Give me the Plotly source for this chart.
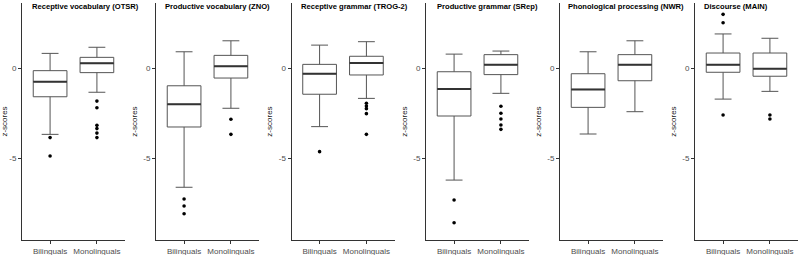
import plotly.graph_objects as go

W, H = 800, 255

groups = ["Bilinguals", "Monolinguals"]
titles = ["Receptive vocabulary (OTSR)", "Productive vocabulary (ZNO)",
          "Receptive grammar (TROG-2)", "Productive grammar (SRep)",
          "Phonological processing (NWR)", "Discourse (MAIN)"]

# stats per panel: [Bilinguals, Monolinguals]
q1 = [[-1.58, -0.24], [-3.26, -0.54], [-1.44, -0.37], [-2.65, -0.35], [-2.17, -0.69], [-0.22, -0.44]]
median = [[-0.74, 0.28], [-2.00, 0.11], [-0.30, 0.29], [-1.15, 0.20], [-1.17, 0.20], [0.20, -0.02]]
q3 = [[-0.13, 0.61], [-0.97, 0.72], [0.22, 0.67], [-0.19, 0.76], [-0.30, 0.76], [0.85, 0.85]]
lower = [[-3.67, -1.33], [-6.61, -2.22], [-3.24, -1.67], [-6.21, -1.39], [-3.65, -2.41], [-1.71, -1.28]]
upper = [[0.83, 1.17], [0.92, 1.53], [1.29, 1.48], [0.79, 0.96], [0.92, 1.53], [1.91, 1.67]]
outliers_bil = [[-3.85, -4.87], [-7.26, -7.65, -8.08], [-4.63], [-7.32, -8.58], [], [3.0, 2.53, -2.59]]
outliers_mono = [[-1.82, -2.19, -3.17, -3.35, -3.6, -3.85], [-2.83, -3.67],
                 [-1.94, -2.09, -2.24, -2.52, -3.67], [-2.11, -2.5, -2.82, -3.15, -3.39],
                 [], [-2.59, -2.82]]

yticks = [-5, 0]
yrange = [-9.54, 3.63]

axis_left_px = [22, 156, 291.5, 426, 560, 695]
panel_w_px = 103
title_center_px = [85, 217, 354, 487, 626, 736]

fig = go.Figure()
box_line = "#555555"
for i in range(6):
    xa = "x" if i == 0 else f"x{i+1}"
    ya = "y" if i == 0 else f"y{i+1}"
    fig.add_trace(go.Box(
        x=groups, q1=q1[i], median=median[i], q3=q3[i],
        lowerfence=lower[i], upperfence=upper[i],
        width=0.72, fillcolor="white", line=dict(color=box_line, width=1),
        boxpoints=False, xaxis=xa, yaxis=ya, showlegend=False, hoverinfo="skip"))
    # thicker median overlay
    fig.add_trace(go.Box(
        x=groups, q1=median[i], median=median[i], q3=median[i],
        lowerfence=median[i], upperfence=median[i],
        width=0.72, fillcolor="rgba(0,0,0,0)", line=dict(color="#333333", width=2),
        boxpoints=False, xaxis=xa, yaxis=ya, showlegend=False, hoverinfo="skip"))
    ox = [groups[0]] * len(outliers_bil[i]) + [groups[1]] * len(outliers_mono[i])
    oy = outliers_bil[i] + outliers_mono[i]
    if oy:
        fig.add_trace(go.Scatter(
            x=ox, y=oy, mode="markers", marker=dict(color="black", size=3.6),
            xaxis=xa, yaxis=ya, showlegend=False, hoverinfo="skip", cliponaxis=False))

layout = dict(
    width=W, height=H, margin=dict(l=0, r=0, t=3, b=15),
    plot_bgcolor="white", paper_bgcolor="white",
    boxmode="overlay",
    font=dict(family="Liberation Sans, Arial, sans-serif", size=8, color="#4d4d4d"),
)
for i in range(6):
    xk = "xaxis" if i == 0 else f"xaxis{i+1}"
    yk = "yaxis" if i == 0 else f"yaxis{i+1}"
    xa_anchor = "y" if i == 0 else f"y{i+1}"
    ya_anchor = "x" if i == 0 else f"x{i+1}"
    d0 = axis_left_px[i] / W
    d1 = min((axis_left_px[i] + panel_w_px) / W, 1.0)
    layout[xk] = dict(domain=[d0, d1], anchor=xa_anchor, type="category",
                      categoryorder="array", categoryarray=groups,
                      range=[-0.6, 1.6], showline=True, linecolor="#333333", linewidth=1,
                      ticks="outside", ticklen=3, tickcolor="#333333", showgrid=False,
                      zeroline=False, tickfont=dict(size=8, color="#4d4d4d"))
    layout[yk] = dict(anchor=ya_anchor, range=yrange, tickvals=yticks,
                      ticktext=[str(v) for v in yticks],
                      showline=True, linecolor="#333333", linewidth=1,
                      ticks="outside", ticklen=3, tickcolor="#333333", showgrid=False,
                      zeroline=False, tickfont=dict(size=8, color="#4d4d4d"),
                      title=dict(text="z-scores", font=dict(size=8, color="#222222"), standoff=4))
fig.update_layout(**layout)

for i in range(6):
    fig.add_annotation(text=f"<b>{titles[i]}</b>", xref="paper", yref="paper",
                       x=title_center_px[i] / W, y=1.0, yanchor="top", xanchor="center",
                       showarrow=False, yshift=3,
                       font=dict(size=7.6, color="black", family="Liberation Sans, Arial, sans-serif"))

fig.write_html("out.html", config={"displayModeBar": False},
               post_script="document.body.style.margin='0';")
